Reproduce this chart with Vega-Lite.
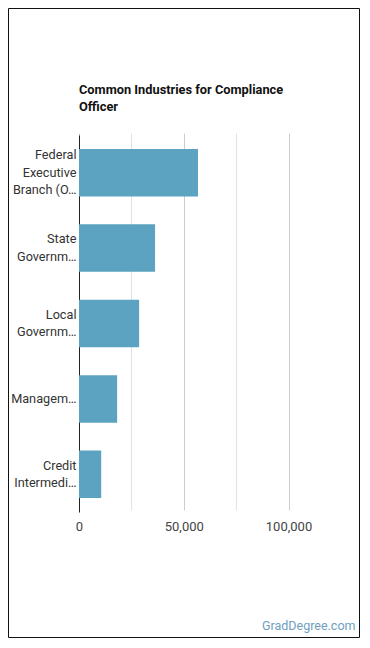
{
  "$schema": "https://vega.github.io/schema/vega-lite/v6.json",
  "width": 351,
  "height": 629,
  "autosize": {"type": "none"},
  "padding": {"left": 8, "top": 8, "right": 11, "bottom": 11},
  "background": "white",
  "title": {
    "text": ["Common Industries for Compliance", "Officer"],
    "anchor": "start",
    "frame": "group",
    "orient": "top",
    "offset": 0,
    "dx": 71,
    "dy": 106,
    "baseline": "top",
    "font": "Roboto",
    "fontSize": 12.8,
    "fontWeight": "bold",
    "color": "#111111",
    "lineHeight": 17
  },
  "config": {
    "view": {"stroke": "#111111", "strokeWidth": 1},
    "font": "Roboto"
  },
  "data": {
    "values": [
      {"industry": "Federal Executive Branch (OES Designation)", "employees": 56800},
      {"industry": "State Government, excluding schools and hospitals", "employees": 36300},
      {"industry": "Local Government, excluding schools and hospitals", "employees": 28700},
      {"industry": "Management of Companies and Enterprises", "employees": 18200},
      {"industry": "Credit Intermediation and Related Activities", "employees": 10600}
    ]
  },
  "mark": {"type": "bar", "color": "#5ba3c1"},
  "encoding": {
    "y": {
      "field": "industry",
      "type": "nominal",
      "sort": "-x",
      "scale": {"range": [127, 504], "paddingInner": 0.37, "paddingOuter": 0.185},
      "axis": {
        "title": null,
        "orient": "left",
        "offset": -71,
        "domain": true,
        "domainColor": "#222222",
        "ticks": false,
        "grid": false,
        "labelPadding": 3,
        "labelFont": "Roboto",
        "labelFontSize": 12.7,
        "labelColor": "#333333",
        "labelLineHeight": 17.5,
        "labelLimit": 0,
        "labelOffset": {
          "condition": [
            {"test": "datum.value == 'Federal Executive Branch (OES Designation)'", "value": -17.5},
            {"test": "datum.value == 'Management of Companies and Enterprises'", "value": 0}
          ],
          "value": -8.75
        },
        "labelExpr": "datum.value == 'Federal Executive Branch (OES Designation)' ? ['Federal', 'Executive', 'Branch (O…'] : datum.value == 'State Government, excluding schools and hospitals' ? ['State', 'Governm…'] : datum.value == 'Local Government, excluding schools and hospitals' ? ['Local', 'Governm…'] : datum.value == 'Management of Companies and Enterprises' ? 'Managem…' : ['Credit', 'Intermedi…']"
      }
    },
    "x": {
      "field": "employees",
      "type": "quantitative",
      "scale": {"domain": [0, 125000], "range": [71, 332.9], "nice": false, "zero": true},
      "axis": {
        "orient": "bottom",
        "offset": -125,
        "domain": false,
        "ticks": false,
        "grid": true,
        "gridColor": {"condition": {"test": "datum.value % 50000 === 0", "value": "#cccccc"}, "value": "#e2e2e2"},
        "values": [0, 25000, 50000, 75000, 100000],
        "labelExpr": "datum.value % 50000 === 0 ? format(datum.value, ',') : ''",
        "labelFlush": false,
        "labelPadding": 8,
        "labelFont": "Roboto",
        "labelFontSize": 13,
        "labelColor": "#444444",
        "title": "GradDegree.com",
        "titleX": 347,
        "titleY": 113,
        "titleAlign": "right",
        "titleBaseline": "middle",
        "titleFont": "Roboto",
        "titleFontSize": 12.5,
        "titleFontWeight": "normal",
        "titleColor": "#6f9fc0"
      }
    }
  }
}
